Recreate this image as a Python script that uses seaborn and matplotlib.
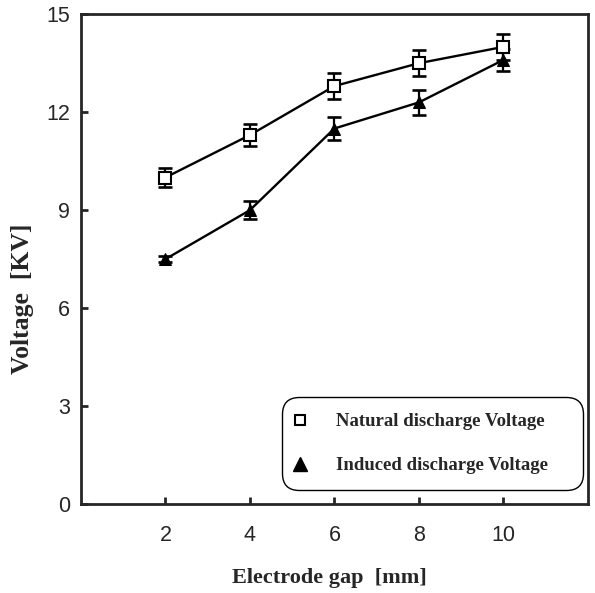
import matplotlib
matplotlib.use("Agg")
import matplotlib.pyplot as plt
from matplotlib.lines import Line2D
import seaborn as sns
import pandas as pd

gap_mm = [2, 4, 6, 8, 10]
natural_kv = [10.0, 11.3, 12.8, 13.5, 14.0]
natural_err = [0.3, 0.35, 0.4, 0.4, 0.4]
induced_kv = [7.5, 9.0, 11.5, 12.3, 13.6]
induced_err = [0.1, 0.28, 0.34, 0.38, 0.35]
series_names = ["Natural discharge Voltage", "Induced discharge Voltage"]
x_ticks = [2, 4, 6, 8, 10]
y_ticks = [0, 3, 6, 9, 12, 15]

sns.set_style("ticks")
plt.rcParams['font.family'] = ['Liberation Sans', 'DejaVu Sans']

df = pd.DataFrame({
    "gap": gap_mm * 2,
    "kv": natural_kv + induced_kv,
    "series": [series_names[0]] * 5 + [series_names[1]] * 5,
})

fig = plt.figure(figsize=(5.95, 5.93), dpi=100)
ax = fig.add_axes([0.136, 0.150, 0.852, 0.826])

# error bars
ax.errorbar(gap_mm, natural_kv, yerr=natural_err, fmt='none', ecolor='black',
            elinewidth=1.6, capsize=5, capthick=1.9, zorder=2)
ax.errorbar(gap_mm, induced_kv, yerr=induced_err, fmt='none', ecolor='black',
            elinewidth=1.6, capsize=5, capthick=1.9, zorder=2)

sns.lineplot(data=df, x="gap", y="kv", hue="series", style="series",
             markers={series_names[0]: 's', series_names[1]: '^'},
             dashes=False, palette={series_names[0]: 'black', series_names[1]: 'black'},
             linewidth=1.7, markersize=9, ax=ax, legend=False, zorder=3)
for ln in ax.get_lines():
    if ln.get_marker() == 's':
        ln.set_markerfacecolor('white')
        ln.set_markeredgecolor('black')
        ln.set_markeredgewidth(1.5)
    elif ln.get_marker() == '^':
        ln.set_markerfacecolor('black')
        ln.set_markeredgecolor('black')

ax.set_xlim(0, 12)
ax.set_ylim(0, 15)
ax.set_xticks(x_ticks)
ax.set_yticks(y_ticks)
ax.tick_params(direction='in', length=5, width=2, labelsize=15.5)
ax.tick_params(axis='x', pad=15)
ax.tick_params(axis='y', pad=8)
for s in ax.spines.values():
    s.set_linewidth(2)
    s.set_visible(True)

ax.set_xlabel("Electrode gap  [mm]", fontfamily='Liberation Serif', fontweight='bold',
              fontsize=16)
ax.set_ylabel("Voltage  [KV]", fontfamily='Liberation Serif', fontweight='bold',
              fontsize=18.5)
ax.xaxis.set_label_coords(0.49, -0.13)
ax.yaxis.set_label_coords(-0.092, 0.42)

handles = [
    Line2D([], [], linestyle='none', marker='s', markersize=7.5, markerfacecolor='white',
           markeredgecolor='black', markeredgewidth=1.5),
    Line2D([], [], linestyle='none', marker='^', markersize=10, markerfacecolor='black',
           markeredgecolor='black'),
]
legend_labels = [name + "    " for name in series_names]
leg = ax.legend(handles, legend_labels, loc='lower right', bbox_to_anchor=(0.99, 0.028),
                frameon=True, fancybox=True, edgecolor='black', framealpha=1,
                prop={'family': 'Liberation Serif', 'weight': 'bold', 'size': 13.5},
                handletextpad=1.8, labelspacing=1.45, borderpad=0.85, borderaxespad=0.0,
                handlelength=0.2)
leg.get_frame().set_linewidth(1.0)
leg.get_frame().set_boxstyle('round,pad=0,rounding_size=0.9')

fig.savefig("out.png", dpi=100)
